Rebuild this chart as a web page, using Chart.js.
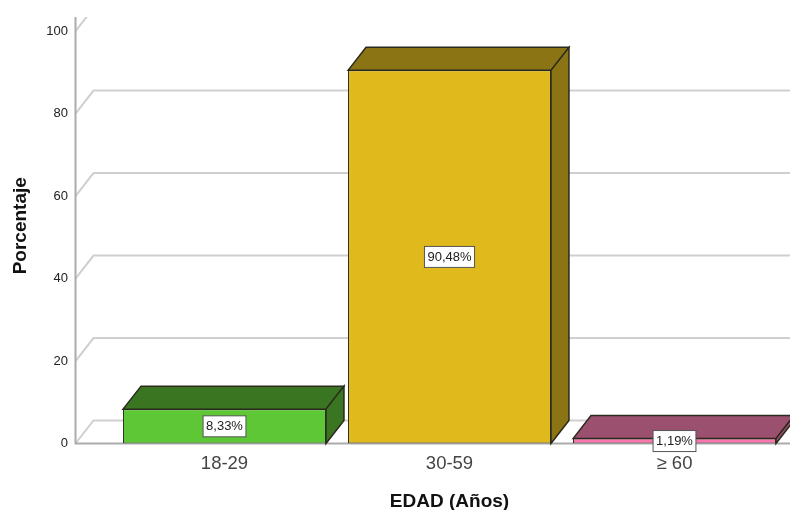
<!DOCTYPE html>
<html>
<head>
<meta charset="utf-8">
<title>EDAD</title>
<script src="https://cdn.jsdelivr.net/npm/chart.js@4/dist/chart.umd.min.js"></script>
<style>
  html, body { margin: 0; padding: 0; background: #fff; }
  canvas { display: block; }
</style>
</head>
<body>
<canvas id="chart" width="790" height="510"></canvas>
<script>
const categories = ['18-29', '30-59', '≥ 60'];
const percentages = [8.33, 90.48, 1.19];
const valueLabels = ['8,33%', '90,48%', '1,19%'];
const frontColors = ['#5DC736', '#E0BA1C', '#F976AE'];
const sideColors = ['#3A7522', '#8A7413', '#9C506F'];
const yTicks = [0, 20, 40, 60, 80, 100];

const DEPTH_X = 18;
const DEPTH_Y = 23;
const AXIS_X = 75.5;
const AXIS_TOP = 17;
const EDGE = '#2a2a1e';

function face(ctx, pts, fill) {
  ctx.beginPath();
  pts.forEach(([x, y], i) => (i ? ctx.lineTo(x, y) : ctx.moveTo(x, y)));
  ctx.closePath();
  ctx.fillStyle = fill;
  ctx.fill();
  ctx.strokeStyle = EDGE;
  ctx.lineWidth = 1.5;
  ctx.stroke();
}

// back wall grid, axis lines and the extruded bar faces
const depthPlugin = {
  id: 'depth',
  beforeDatasetsDraw(chart) {
    const { ctx, scales: { y }, width } = chart;
    ctx.save();
    ctx.beginPath();
    ctx.rect(0, AXIS_TOP, width, chart.height);
    ctx.clip();
    ctx.strokeStyle = '#cfcfcf';
    ctx.lineWidth = 2;
    for (const t of yTicks) {
      const py = y.getPixelForValue(t);
      ctx.beginPath();
      ctx.moveTo(AXIS_X, py);
      ctx.lineTo(AXIS_X + DEPTH_X, py - DEPTH_Y);
      ctx.lineTo(width, py - DEPTH_Y);
      ctx.stroke();
    }
    ctx.restore();

    const base = y.getPixelForValue(0);
    ctx.save();
    ctx.strokeStyle = '#ababab';
    ctx.lineWidth = 2;
    ctx.beginPath();
    ctx.moveTo(AXIS_X, AXIS_TOP);
    ctx.lineTo(AXIS_X, base);
    ctx.lineTo(width, base);
    ctx.stroke();
    ctx.restore();

    ctx.save();
    chart.getDatasetMeta(0).data.forEach((bar, i) => {
      const l = bar.x - bar.width / 2;
      const r = bar.x + bar.width / 2;
      face(ctx, [[l, bar.y], [l + DEPTH_X, bar.y - DEPTH_Y], [r + DEPTH_X, bar.y - DEPTH_Y], [r, bar.y]], sideColors[i]);
      face(ctx, [[r, bar.y], [r + DEPTH_X, bar.y - DEPTH_Y], [r + DEPTH_X, base - DEPTH_Y], [r, base]], sideColors[i]);
    });
    ctx.restore();
  },
  afterDatasetsDraw(chart) {
    const { ctx, scales: { y } } = chart;
    const base = y.getPixelForValue(0);
    ctx.save();
    ctx.font = '13px "Liberation Sans"';
    ctx.textAlign = 'center';
    ctx.textBaseline = 'middle';
    chart.getDatasetMeta(0).data.forEach((bar, i) => {
      const cy = (bar.y + base) / 2;
      const w = ctx.measureText(valueLabels[i]).width + 6;
      ctx.fillStyle = '#fff';
      ctx.fillRect(bar.x - w / 2, cy - 10.5, w, 21);
      ctx.strokeStyle = '#555';
      ctx.lineWidth = 1;
      ctx.strokeRect(bar.x - w / 2, cy - 10.5, w, 21);
      ctx.fillStyle = '#222';
      ctx.fillText(valueLabels[i], bar.x, cy + 0.5);
    });
    ctx.restore();
  },
};

new Chart(document.getElementById('chart'), {
  type: 'bar',
  data: {
    labels: categories,
    datasets: [{
      data: percentages,
      backgroundColor: frontColors,
      borderColor: EDGE,
      borderWidth: 1,
      borderSkipped: false,
      barPercentage: 0.902,
      categoryPercentage: 1,
    }],
  },
  options: {
    responsive: false,
    animation: false,
    layout: { padding: { top: 8, right: 3, left: 0, bottom: 0 } },
    plugins: { legend: { display: false }, tooltip: { enabled: false } },
    scales: {
      x: {
        afterFit: (scale) => { scale.height = 66.5; },
        grid: { display: false },
        border: { display: false },
        ticks: { color: '#444', font: { size: 18.5, family: 'Liberation Sans' }, padding: 1, maxRotation: 0 },
        title: {
          display: true,
          text: 'EDAD (Años)',
          color: '#111',
          font: { size: 19, weight: 'bold', family: 'Liberation Sans' },
          padding: { top: 0, bottom: -3 },
        },
      },
      y: {
        min: 0,
        max: 105.6,
        afterFit: (scale) => {
          // keep the tick padding from eating into the plot height
          scale.width = 112;
          scale.paddingTop = 0;
          scale.paddingBottom = 0;
        },
        afterBuildTicks: (scale) => { scale.ticks = yTicks.map(value => ({ value })); },
        grid: { display: false },
        border: { display: false },
        ticks: { color: '#222', font: { size: 13, family: 'Liberation Sans' }, padding: 36 },
        title: {
          display: true,
          text: 'Porcentaje',
          color: '#111',
          font: { size: 19, weight: 'bold', family: 'Liberation Sans' },
          padding: { top: 9, bottom: 0 },
        },
      },
    },
  },
  plugins: [depthPlugin],
});
</script>
</body>
</html>
